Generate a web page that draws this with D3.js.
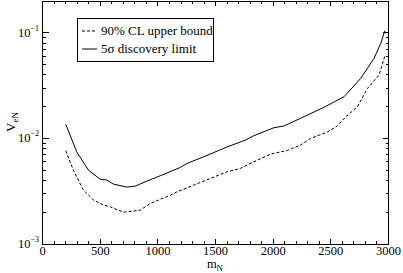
<!DOCTYPE html>
<html><head><meta charset="utf-8">
<script src="https://cdn.jsdelivr.net/npm/d3@7"></script>
<style>body{margin:0;background:#fff}svg{display:block}</style>
</head><body><svg id="c" width="403" height="273" font-family="'Liberation Serif','Times New Roman','DejaVu Serif',serif"></svg>
<script>
const massCL = [200,266,353,440,527,585,701,846,933,1107,1165,1310,1455,1600,1716,1831,1977,2122,2237,2324,2469,2556,2629,2730,2817,2918,2968];
const valueCL = [0.00764,0.0050,0.00324,0.00261,0.00234,0.00225,0.00200,0.00209,0.00242,0.00290,0.00312,0.00361,0.00418,0.00483,0.0052,0.0060,0.0071,0.0077,0.00864,0.0100,0.0115,0.0131,0.0160,0.0199,0.0297,0.0397,0.0601];
const mass5s = [200,295,397,498,556,614,730,803,904,1020,1194,1252,1397,1600,1759,1831,2005,2092,2237,2440,2614,2759,2875,2933,2968];
const value5s = [0.0136,0.00746,0.0050,0.00411,0.00403,0.00369,0.00346,0.00353,0.00394,0.00443,0.00531,0.00579,0.0067,0.0083,0.00964,0.0106,0.0126,0.0131,0.0155,0.0197,0.0248,0.0370,0.0573,0.0794,0.1045];
const xTicks = [0,500,1000,1500,2000,2500,3000];
const yTickExps = [-3,-2,-1];
const legendLabels = ["90% CL upper bound","5\u03c3 discovery limit"];

const L=42.7,R=388.5,T=1,B=244;
const svg=d3.select("#c");
const x=d3.scaleLinear().domain([0,3000]).range([L,R]);
const y=d3.scaleLog().domain([0.001,0.2]).range([B,T]);

const xMinor=d3.range(0,3001,100).filter(v=>v%500!==0);
const yMinor=[];
[-3,-2,-1].forEach(e=>{for(let k=2;k<=9;k++){const v=k*Math.pow(10,e);if(v<=0.2)yMinor.push(v);}});
const g=svg.append("g").attr("stroke","#000").attr("stroke-width",1).attr("shape-rendering","crispEdges");
xTicks.forEach(v=>{g.append("line").attr("x1",x(v)).attr("x2",x(v)).attr("y1",B).attr("y2",B-5);
  g.append("line").attr("x1",x(v)).attr("x2",x(v)).attr("y1",T).attr("y2",T+5);});
xMinor.forEach(v=>{g.append("line").attr("x1",x(v)).attr("x2",x(v)).attr("y1",B).attr("y2",B-3);
  g.append("line").attr("x1",x(v)).attr("x2",x(v)).attr("y1",T).attr("y2",T+3);});
yTickExps.forEach(e=>{const v=Math.pow(10,e);g.append("line").attr("x1",L).attr("x2",L+6).attr("y1",y(v)).attr("y2",y(v));
  g.append("line").attr("x1",R).attr("x2",R-6).attr("y1",y(v)).attr("y2",y(v));});
yMinor.forEach(v=>{g.append("line").attr("x1",L).attr("x2",L+3).attr("y1",y(v)).attr("y2",y(v));
  g.append("line").attr("x1",R).attr("x2",R-3).attr("y1",y(v)).attr("y2",y(v));});
g.append("rect").attr("x",L).attr("y",T).attr("width",R-L).attr("height",B-T).attr("fill","none");

xTicks.forEach(v=>svg.append("text").attr("x",x(v)).attr("y",255).attr("text-anchor","middle").attr("font-size",12.5).text(v));
yTickExps.forEach(e=>{const t=svg.append("text").attr("x",39).attr("y",y(Math.pow(10,e))+4).attr("text-anchor","end").attr("font-size",12.5);
  t.append("tspan").text("10");t.append("tspan").attr("dy",-6).attr("font-size",8).text("\u2212"+(-e));});
const xl=svg.append("text").attr("x",215).attr("y",268).attr("text-anchor","middle").attr("font-size",12.5);
xl.append("tspan").text("m");xl.append("tspan").attr("dy",3).attr("font-size",9).text("N");
const yl=svg.append("text").attr("transform","translate(15,122) rotate(-90)").attr("text-anchor","middle").attr("font-size",13);
yl.append("tspan").text("V");yl.append("tspan").attr("dy",3).attr("font-size",9).text("eN");

const line=d3.line().x(d=>x(d[0])).y(d=>y(d[1]));
svg.append("path").datum(d3.zip(massCL,valueCL)).attr("d",line).attr("fill","none").attr("stroke","#000").attr("stroke-width",1).attr("stroke-dasharray","3,2");
svg.append("path").datum(d3.zip(mass5s,value5s)).attr("d",line).attr("fill","none").attr("stroke","#000").attr("stroke-width",1);

const lg=svg.append("g");
lg.append("rect").attr("x",77.5).attr("y",18.5).attr("width",136).attr("height",43).attr("fill","#fff").attr("stroke","#000").attr("shape-rendering","crispEdges");
[0,1].forEach(i=>{const yy=31+i*18;
  lg.append("line").attr("x1",82).attr("x2",97).attr("y1",yy).attr("y2",yy).attr("stroke","#000").attr("stroke-dasharray",i===0?"3,2":null);
  lg.append("text").attr("x",101).attr("y",yy+4).attr("font-size",13).text(legendLabels[i]);});
</script></body></html>
